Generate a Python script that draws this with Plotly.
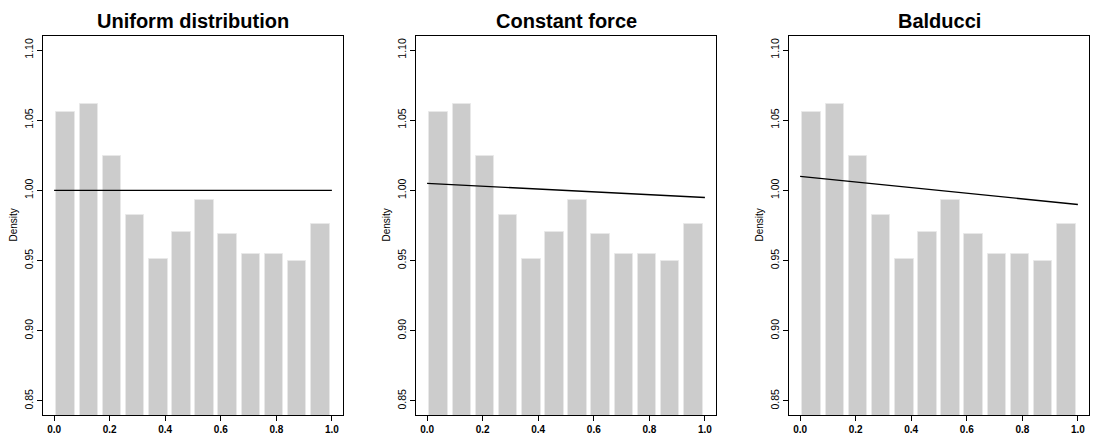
import plotly.graph_objects as go

# Data
bin_mids = [(i + 0.5) / 12 for i in range(12)]
densities = [1.0561, 1.0618, 1.0243, 0.9827, 0.9511, 0.9701,
             0.9932, 0.9692, 0.9549, 0.9545, 0.9495, 0.9758]
panel_titles = ["Uniform distribution", "Constant force", "Balducci"]
line_x = [0.0, 1.0]
line_y = [[1.000, 1.000], [1.005, 0.995], [1.010, 0.990]]
x_ticks = [0.0, 0.2, 0.4, 0.6, 0.8, 1.0]
y_ticks = [0.85, 0.90, 0.95, 1.00, 1.05, 1.10]

W, H = 1094, 437
left_px = [43, 416, 789]
panel_w = 300
top_px, bot_px = 36, 415

fig = go.Figure()
font_family = "Liberation Sans, Arial, Helvetica, sans-serif"

for k in range(3):
    xa = "x" if k == 0 else f"x{k+1}"
    ya = "y" if k == 0 else f"y{k+1}"
    fig.add_trace(go.Bar(
        x=bin_mids, y=densities, width=0.8 / 12,
        marker=dict(color="#cccccc", line=dict(color="#e8e8e8", width=1)),
        xaxis=xa, yaxis=ya, showlegend=False, hoverinfo="skip"))
    fig.add_trace(go.Scatter(
        x=line_x, y=line_y[k], mode="lines",
        line=dict(color="black", width=1.4),
        xaxis=xa, yaxis=ya, showlegend=False, hoverinfo="skip"))

    x0 = left_px[k] / W
    x1 = (left_px[k] + panel_w) / W
    xkey = "xaxis" if k == 0 else f"xaxis{k+1}"
    ykey = "yaxis" if k == 0 else f"yaxis{k+1}"
    fig.layout[xkey] = dict(
        domain=[x0, x1], anchor=ya, range=[-0.04, 1.04],
        tickvals=x_ticks, ticktext=[f"<b>{v:.1f}</b>" for v in x_ticks],
        ticks="outside", ticklen=5, tickcolor="black", tickwidth=1,
        showline=True, linecolor="black", linewidth=1, mirror=True,
        showgrid=False, zeroline=False,
        tickfont=dict(size=10, color="black", family=font_family))
    fig.layout[ykey] = dict(
        domain=[1 - bot_px / H, 1 - top_px / H], anchor=xa,
        range=[0.84, 1.11],
        tickvals=y_ticks, ticktext=[f"{v:.2f}" for v in y_ticks],
        tickangle=-90,
        ticks="outside", ticklen=5, tickcolor="black", tickwidth=1,
        showline=True, linecolor="black", linewidth=1, mirror=True,
        showgrid=False, zeroline=False,
        tickfont=dict(size=10.5, color="black", family=font_family))

    cx = (left_px[k] + panel_w / 2) / W
    fig.add_annotation(
        x=cx, y=1 - 20.5 / H, xref="paper", yref="paper",
        text=f"<b>{panel_titles[k]}</b>", showarrow=False,
        xanchor="center", yanchor="middle",
        font=dict(size=20, color="black", family=font_family))
    fig.add_annotation(
        x=(left_px[k] - 30) / W, y=1 - ((top_px + bot_px) / 2) / H,
        xref="paper", yref="paper", text="Density", textangle=-90,
        showarrow=False, xanchor="center", yanchor="middle",
        font=dict(size=10, color="black", family=font_family))

fig.update_layout(
    width=W, height=H, margin=dict(l=0, r=0, t=0, b=0),
    paper_bgcolor="white", plot_bgcolor="white", bargap=0)

fig.write_html(
    "out.html",
    config={"displayModeBar": False},
    post_script="document.body.style.margin='0px';"
                "document.body.style.overflow='hidden';")
